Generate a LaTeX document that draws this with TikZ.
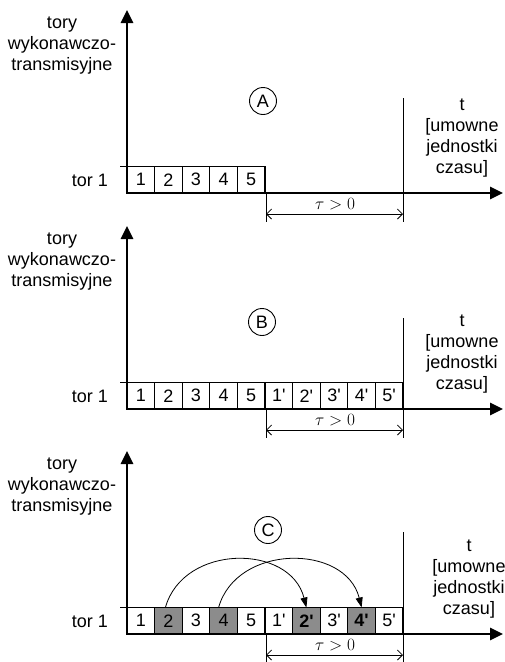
\documentclass[tikz,border=0pt]{standalone}
\usepackage{fontspec}
\setmainfont{Liberation Sans}
\usetikzlibrary{arrows.meta}
\newcommand\qs{\textquotesingle}
\tikzset{
  axisline/.style={line width=2.8pt, line join=miter,
    {Triangle[length=13pt,width=12pt]}-{Triangle[length=13pt,width=12pt]}},
  cell/.style={draw, line width=1.1pt, minimum width=27.6pt, minimum height=26.5pt,
    inner sep=0pt, outer sep=0pt, font=\fontsize{18}{20}\selectfont},
  shaded/.style={cell, fill=black!45},
  lbl/.style={align=center, font=\fontsize{18}{21}\selectfont, inner sep=0pt},
  thinline/.style={line width=0.9pt},
  dimline/.style={line width=0.8pt, {Straight Barb[length=5pt,width=10pt]}-{Straight Barb[length=5pt,width=10pt]}},
  circ/.style={draw, circle, line width=0.9pt, minimum size=27pt, inner sep=0pt, font=\fontsize{18}{20}\selectfont},
  jump/.style={line width=0.8pt, -{Triangle[length=10pt,width=7pt]}},
}
% #1 prefix, #2 circle x, #3 circle y, #4 letter, #5 t-label x, #6 vline top
\newcommand\panelbase[6]{%
  \draw[thinline] (120,166.5) -- (127,166.5);
  \coordinate (#1top) at (127,10);
  \coordinate (#1org) at (127,193);
  \coordinate (#1end) at (503,193);
  \draw[axisline] (#1top) -- (#1org) -- (#1end);
  \node[lbl] (#1ylab) at (62,46) {tory\\wykonawczo-\\transmisyjne};
  \node[lbl, anchor=east] (#1tor) at (108,180) {tor 1};
  \node[circ] (#1circ) at (#2,#3) {#4};
  \node[lbl] (#1tlab) at (#5,138) {t\\{[}umowne\\jednostki\\czasu{]}};
  \coordinate (#1va) at (266,193);
  \coordinate (#1vb) at (266,222);
  \coordinate (#1vc) at (403,#6);
  \coordinate (#1vd) at (403,222);
  \draw[thinline] (#1va) -- (#1vb);
  \draw[thinline] (#1vc) -- (#1vd);
  \coordinate (#1da) at (266,214);
  \coordinate (#1db) at (403,214);
  \draw[dimline] (#1da) -- (#1db);
  \node[inner sep=0pt, font=\fontsize{17}{20}\selectfont] (#1tau) at (335,204) {$\tau>0$};
}
\begin{document}
\begin{tikzpicture}[x=1pt,y=-1pt]
\useasboundingbox (0,0) rectangle (505,662);
% Panel A
\begin{scope}
  \foreach \i in {1,...,5}
    \node[cell] (A\i) at ({127+27.6*(\i-0.5)},179.75) {\i};
  \panelbase{A}{263}{101}{A}{462}{98}
\end{scope}
% Panel B
\begin{scope}[yshift=-216pt]
  \foreach \i in {1,...,5}
    \node[cell] (B\i) at ({127+27.6*(\i-0.5)},179.75) {\i};
  \foreach \i in {1,...,5}
    \node[cell] (Bp\i) at ({127+27.6*(\i+4.5)},179.75) {\i\qs};
  \panelbase{B}{262}{106}{B}{462}{102}
\end{scope}
% Panel C
\begin{scope}[yshift=-441pt]
  \node[cell]   (C1) at ({127+27.6*0.5},179.75) {1};
  \node[shaded] (C2) at ({127+27.6*1.5},179.75) {2};
  \node[cell]   (C3) at ({127+27.6*2.5},179.75) {3};
  \node[shaded] (C4) at ({127+27.6*3.5},179.75) {4};
  \node[cell]   (C5) at ({127+27.6*4.5},179.75) {5};
  \node[cell]   (Cp1) at ({127+27.6*5.5},179.75) {1\qs};
  \node[shaded] (Cp2) at ({127+27.6*6.5},179.75) {\textbf{2\qs}};
  \node[cell]   (Cp3) at ({127+27.6*7.5},179.75) {3\qs};
  \node[shaded] (Cp4) at ({127+27.6*8.5},179.75) {\textbf{4\qs}};
  \node[cell]   (Cp5) at ({127+27.6*9.5},179.75) {5\qs};
  \panelbase{C}{268}{89}{C}{469}{91}
  \draw[jump] ([xshift=-3pt]C2.north) .. controls +(18,-64) and +(-16,-64) .. (Cp2.north);
  \draw[jump] ([xshift=-5pt]C4.north) .. controls +(18,-64) and +(-16,-64) .. (Cp4.north);
\end{scope}
\end{tikzpicture}
\end{document}
